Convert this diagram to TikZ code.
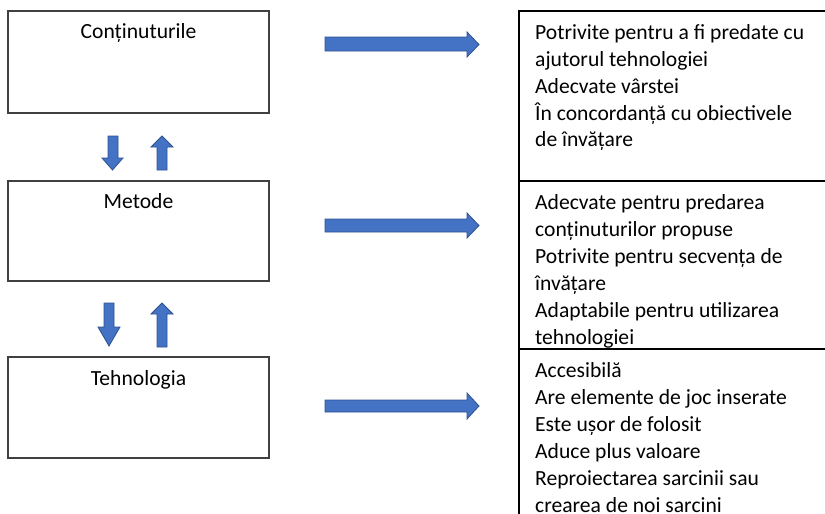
\documentclass[tikz,border=0pt]{standalone}
\usepackage{fontspec}
\setmainfont{Carlito}
\definecolor{arrowblue}{HTML}{4472C4}
\definecolor{arrowline}{HTML}{2F528F}
\definecolor{boxline}{HTML}{404040}
\newcommand\stacklines[1]{\vtop{\halign{##\hfil\cr#1\crcr}}}
\begin{document}
\begin{tikzpicture}[x=1pt,y=-1pt,
  lbox/.style={draw=boxline,line width=1.1pt},
  barrow/.style={draw=arrowline,fill=arrowblue,line width=0.8pt,line join=miter},
  tline/.style={draw=black,line width=1.3pt},
  ltext/.style={inner sep=0pt,anchor=base,font=\fontsize{21.6}{27}\selectfont},
  rtext/.style={inner sep=0pt,anchor=base west,font=\fontsize{21.6}{27}\selectfont}]
\useasboundingbox (0,0) rectangle (825,514);
% left boxes
\draw[lbox] (8,11) rectangle (269,113);
\draw[lbox] (8,181) rectangle (269,281);
\draw[lbox] (8,357) rectangle (269,458);
\node[ltext] (c) at (138.5,38) {Conținuturile};
\node[ltext] (m) at (138.5,208) {Metode};
\node[ltext] (t) at (138.5,385) {Tehnologia};
% vertical arrows
\draw[barrow] (108,136) -- (118,136) -- (118,158) -- (123,158) -- (112.5,170) -- (102,158) -- (108,158) -- cycle;
\draw[barrow] (157,170) -- (167,170) -- (167,147) -- (173,147) -- (162,136) -- (151,147) -- (157,147) -- cycle;
\draw[barrow] (104,303) -- (114,303) -- (114,327) -- (120,327) -- (109,346) -- (98,327) -- (104,327) -- cycle;
\draw[barrow] (157,347) -- (167,347) -- (167,314) -- (173,314) -- (162,303) -- (151,314) -- (157,314) -- cycle;
% horizontal arrows
\draw[barrow] (325,37) -- (467,37) -- (467,32) -- (479,44.5) -- (467,57) -- (467,51) -- (325,51) -- cycle;
\draw[barrow] (325,219) -- (467,219) -- (467,213) -- (479,225.5) -- (467,238) -- (467,232) -- (325,232) -- cycle;
\draw[barrow] (325,400) -- (467,400) -- (467,393) -- (479,406) -- (467,419) -- (467,412) -- (325,412) -- cycle;
% table
\draw[tline] (825,11) -- (519,11) -- (519,514);
\draw[tline] (519,181) -- (825,181);
\draw[tline] (519,349) -- (825,349);
\node[rtext] (r1) at (535,39) {\stacklines{Potrivite pentru a fi predate cu\cr ajutorul tehnologiei\cr Adecvate vârstei\cr În concordanță cu obiectivele\cr de învățare}};
\node[rtext] (r2) at (535,209) {\stacklines{Adecvate pentru predarea\cr conținuturilor propuse\cr Potrivite pentru secvența de\cr învățare\cr Adaptabile pentru utilizarea\cr tehnologiei}};
\node[rtext] (r3) at (535,377) {\stacklines{Accesibilă\cr Are elemente de joc inserate\cr Este ușor de folosit\cr Aduce plus valoare\cr Reproiectarea sarcinii sau\cr crearea de noi sarcini}};
\end{tikzpicture}
\end{document}
